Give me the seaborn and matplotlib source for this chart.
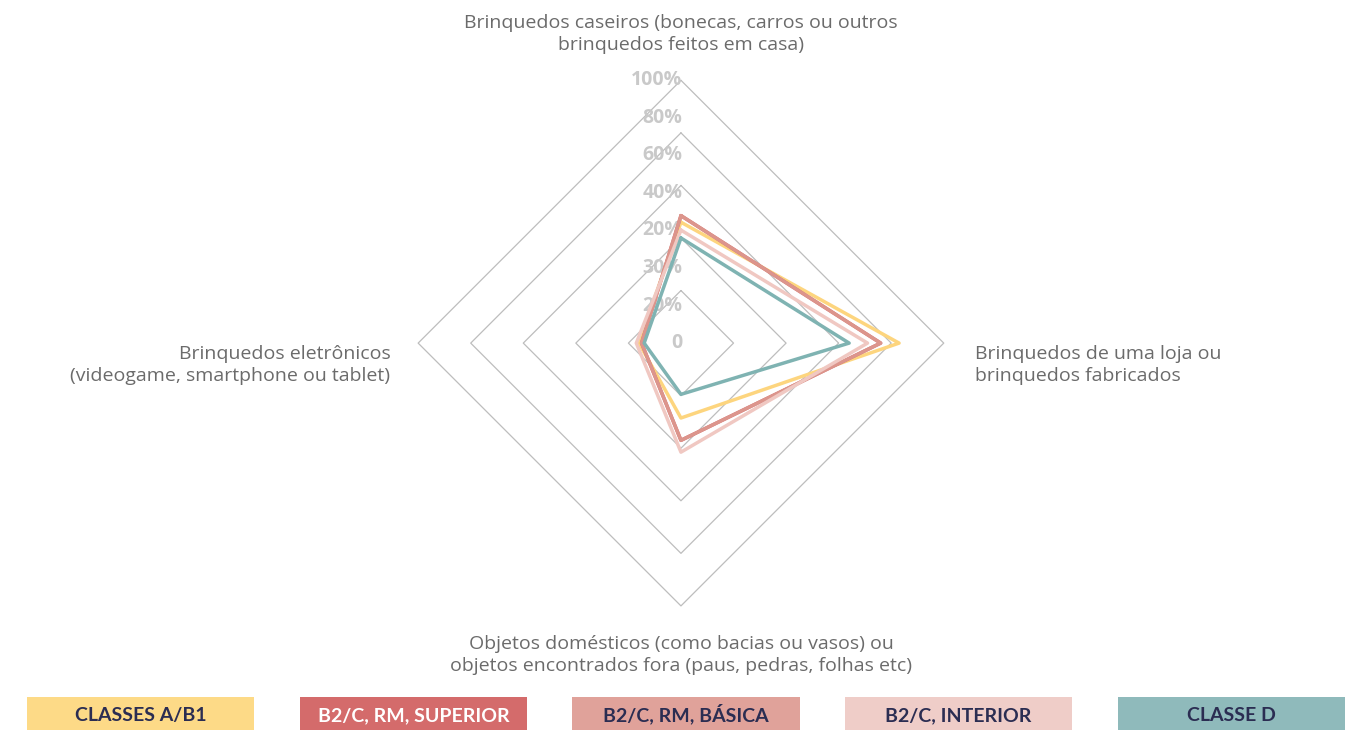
import matplotlib
matplotlib.use("Agg")
import matplotlib.pyplot as plt
import seaborn as sns
import pandas as pd
from matplotlib.patches import Rectangle

# eixos do radar (ordem: topo, direita, baixo, esquerda)
categorias = [
    "Brinquedos caseiros (bonecas, carros ou outros\nbrinquedos feitos em casa)",
    "Brinquedos de uma loja ou\nbrinquedos fabricados",
    "Objetos domésticos (como bacias ou vasos) ou\nobjetos encontrados fora (paus, pedras, folhas etc)",
    "Brinquedos eletrônicos\n(videogame, smartphone ou tablet)",
]

# valores (%)
classes_a_b1 = [46, 83, 28.5, 16]
b2c_rm_superior = [48.5, 76, 37, 15]
b2c_rm_basica = [48.5, 76, 37, 15]
b2c_interior = [43, 71, 41.5, 17]
classe_d = [40, 64, 19.5, 14]

series = ["CLASSES A/B1", "B2/C, RM, SUPERIOR", "B2/C, RM, BÁSICA", "B2/C, INTERIOR", "CLASSE D"]
valores = [classes_a_b1, b2c_rm_superior, b2c_rm_basica, b2c_interior, classe_d]
cores_linha = ["#fdd57e", "#d46b6b", "#dc958c", "#f0c8c2", "#7fb3b2"]
cores_legenda = ["#fdda87", "#d46b6b", "#e0a29a", "#efcdc8", "#8fbabb"]

aneis = [20, 40, 60, 80, 100]
rotulos_eixo = ["100%", "80%", "60%", "40%", "20%", "30%", "20%", "0"]

sns.set_theme(style="white")
plt.rcParams['font.family'] = ['Open Sans', 'DejaVu Sans']

# direções de cada eixo (topo, direita, baixo, esquerda)
dx = [0, 1, 0, -1]
dy = [1, 0, -1, 0]

fig = plt.figure(figsize=(13.63, 7.30), dpi=100)
ax = fig.add_axes([0.2971, 0.152, 0.405, 0.756])
ax.set_xlim(-105, 105)
ax.set_ylim(-105, 105)
ax.set_aspect("equal")
ax.axis("off")

# grade em losango
for r in aneis:
    gx = [r * d for d in dx] + [r * dx[0]]
    gy = [r * d for d in dy] + [r * dy[0]]
    ax.plot(gx, gy, color="#bdbdbd", lw=0.9, zorder=1)

# linhas das séries (polígono fechado, sem agregação)
for nome, vals, cor in zip(series, valores, cores_linha):
    df = pd.DataFrame({
        "x": [v * d for v, d in zip(vals, dx)] + [vals[0] * dx[0]],
        "y": [v * d for v, d in zip(vals, dy)] + [vals[0] * dy[0]],
    })
    sns.lineplot(data=df, x="x", y="y", sort=False, estimator=None, color=cor,
                 lw=2.5, ax=ax, zorder=3)
ax.set_xlabel("")
ax.set_ylabel("")

# rótulos do eixo radial
for i, lab in enumerate(rotulos_eixo):
    ax.text(0.5, 100 - i * 100 / 7, lab, ha="right", va="center", fontsize=14,
            fontweight="bold", color="#c9c9c9", zorder=2)

# rótulos das categorias
cor_txt = "#6b6b6b"
ax.text(0, 117.5, categorias[0], ha="center", va="center", fontsize=14, color=cor_txt,
        linespacing=1.3, clip_on=False)
ax.text(111.8, -8.4, categorias[1], ha="left", va="center", fontsize=14, color=cor_txt,
        linespacing=1.3, clip_on=False)
ax.text(0, -118.6, categorias[2], ha="center", va="center", fontsize=14, color=cor_txt,
        linespacing=1.3, clip_on=False)
ax.text(-110.6, -8.4, categorias[3], ha="right", va="center", fontsize=14, color=cor_txt,
        linespacing=1.3, clip_on=False)

# legenda em caixas coloridas
lax = fig.add_axes([0, 0, 1, 0.045])
lax.set_xlim(0, 5)
lax.set_ylim(0, 1)
lax.axis("off")
for i, (nome, cor) in enumerate(zip(series, cores_legenda)):
    lax.add_patch(Rectangle((i + 0.1, 0), 0.833, 1, color=cor, lw=0))
    cor_nome = "white" if i == 1 else "#2b2d52"
    lax.text(i + 0.1 + 0.4165, 0.27, nome, ha="center", va="baseline", fontsize=14,
             fontweight="bold", color=cor_nome, family=["Lato", "DejaVu Sans"])

fig.savefig("out.png", dpi=100)
